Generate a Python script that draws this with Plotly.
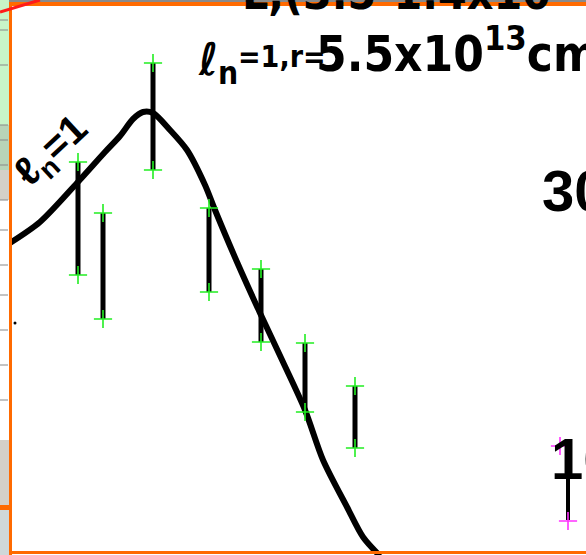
import plotly.graph_objects as go

bar_x = [78, 103, 153, 209, 261, 305, 355]
bar_top = [162, 213, 63, 208, 269, 343, 386]
bar_bottom = [275, 319, 170, 292, 342, 412, 448]

curve_x = [10, 40, 77, 105, 120, 133, 143, 153, 170, 187, 205, 215, 237, 260, 283, 305, 323, 347, 363, 380]
curve_y = [243, 222, 183, 152, 136, 119, 112, 113, 130, 150, 185, 210, 262, 313, 362, 410, 460, 507, 537, 556]

pick_x = [560, 568]
pick_y = [446, 521]
pick_bar_x = [568]
pick_bar_top = [477]
pick_bar_bottom = [520]

W, H = 586, 555
ORANGE = '#ff6a00'

fig = go.Figure()

# error bars as segments
seg_x, seg_y = [], []
for x, t, b in zip(bar_x, bar_top, bar_bottom):
    seg_x += [x, x, None]
    seg_y += [t, b, None]
fig.add_trace(go.Scatter(x=seg_x, y=seg_y, mode='lines',
                         line=dict(color='black', width=5), hoverinfo='skip'))

fig.add_trace(go.Scatter(x=curve_x, y=curve_y, mode='lines',
                         line=dict(color='black', width=6, shape='spline', smoothing=0.8),
                         hoverinfo='skip'))

# green picks at the ends of every bar
fig.add_trace(go.Scatter(x=bar_x + bar_x, y=bar_top + bar_bottom, mode='markers',
                         marker=dict(symbol='cross-thin', size=13,
                                     line=dict(color='#22ee22', width=1.6))))

# magenta picks on the right
pb_x, pb_y = [], []
for x, t, b in zip(pick_bar_x, pick_bar_top, pick_bar_bottom):
    pb_x += [x, x, None]
    pb_y += [t, b, None]
fig.add_trace(go.Scatter(x=pb_x, y=pb_y, mode='lines',
                         line=dict(color='black', width=4), hoverinfo='skip'))
fig.add_trace(go.Scatter(x=pick_x, y=pick_y, mode='markers',
                         marker=dict(symbol='cross-thin', size=13,
                                     line=dict(color='#ff33ff', width=1.6))))

fig.add_trace(go.Scatter(x=[15], y=[323], mode='markers',
                         marker=dict(color='black', size=3)))

font = dict(family='Liberation Sans', color='black', weight='bold')
narrow = dict(family='DejaVu Sans Condensed, Liberation Sans', color='black', weight='bold')

# header label "ℓn=1, r=5.5x10^13 cm", laid out in pieces like the scan
fig.add_annotation(x=196, y=62, text='ℓ<sub>n</sub>', xanchor='left', yanchor='middle',
                   showarrow=False, font=dict(size=45, **narrow))
fig.add_annotation(x=236, y=56, text='=1,r=', xanchor='left', yanchor='middle',
                   showarrow=False, font=dict(size=30, **narrow))
fig.add_annotation(x=314, y=50, text='5.5x10<sup>13</sup>cm', xanchor='left', yanchor='middle',
                   showarrow=False, font=dict(size=49, **narrow))
fig.add_annotation(x=240, y=22, text='L,(3.5-1.4x10',
                   xanchor='left', yanchor='bottom', showarrow=False,
                   font=dict(size=46, **narrow))
fig.add_annotation(x=52, y=152, text='ℓ<sub>n</sub>=1', textangle=-43,
                   showarrow=False, font=dict(size=40, **font))
fig.add_annotation(x=540, y=190, text='30', xanchor='left', showarrow=False,
                   font=dict(size=58, **font))
fig.add_annotation(x=549, y=458, text='10', xanchor='left', showarrow=False,
                   font=dict(size=58, **font))

# window chrome around the picture
shapes = [
    dict(type='rect', x0=0, x1=W, y0=0, y1=2, fillcolor='#8a8a8a', line_width=0),
    dict(type='rect', x0=0, x1=9, y0=0, y1=125, fillcolor='#c8f5c8', line_width=0),
    dict(type='rect', x0=0, x1=9, y0=125, y1=170, fillcolor='#b8d4b8', line_width=0),
    dict(type='rect', x0=0, x1=9, y0=170, y1=200, fillcolor='#d4d0c8', line_width=0),
    dict(type='rect', x0=0, x1=9, y0=200, y1=440, fillcolor='#ffffff', line_width=0),
    dict(type='rect', x0=0, x1=9, y0=440, y1=505, fillcolor='#d4d0c8', line_width=0),
    dict(type='rect', x0=0, x1=9, y0=505, y1=510, fillcolor=ORANGE, line_width=0),
    dict(type='rect', x0=0, x1=9, y0=510, y1=H, fillcolor='#d0d8d8', line_width=0),
    dict(type='rect', x0=9, x1=W, y0=2, y1=6, fillcolor=ORANGE, line_width=0),
    dict(type='rect', x0=9, x1=12, y0=2, y1=H, fillcolor=ORANGE, line_width=0),
    dict(type='rect', x0=9, x1=W, y0=551, y1=554, fillcolor=ORANGE, line_width=0),
    dict(type='line', x0=0, x1=40, y0=12, y1=0, line=dict(color='#ff1a1a', width=3)),
]
for yy in [20, 30, 65, 125, 140, 165, 200, 230, 265, 295, 330, 365, 400]:
    shapes.append(dict(type='line', x0=0, x1=8, y0=yy, y1=yy,
                       line=dict(color='#888888', width=1)))

fig.update_layout(
    width=W, height=H,
    margin=dict(l=0, r=0, t=0, b=0),
    paper_bgcolor='white', plot_bgcolor='white',
    showlegend=False, shapes=shapes,
    xaxis=dict(range=[0, W], visible=False, fixedrange=True),
    yaxis=dict(range=[H, 0], visible=False, fixedrange=True),
)

fig.write_html("out.html", config={'displayModeBar': False},
               post_script="document.body.style.margin='0';document.body.style.overflow='hidden';")
